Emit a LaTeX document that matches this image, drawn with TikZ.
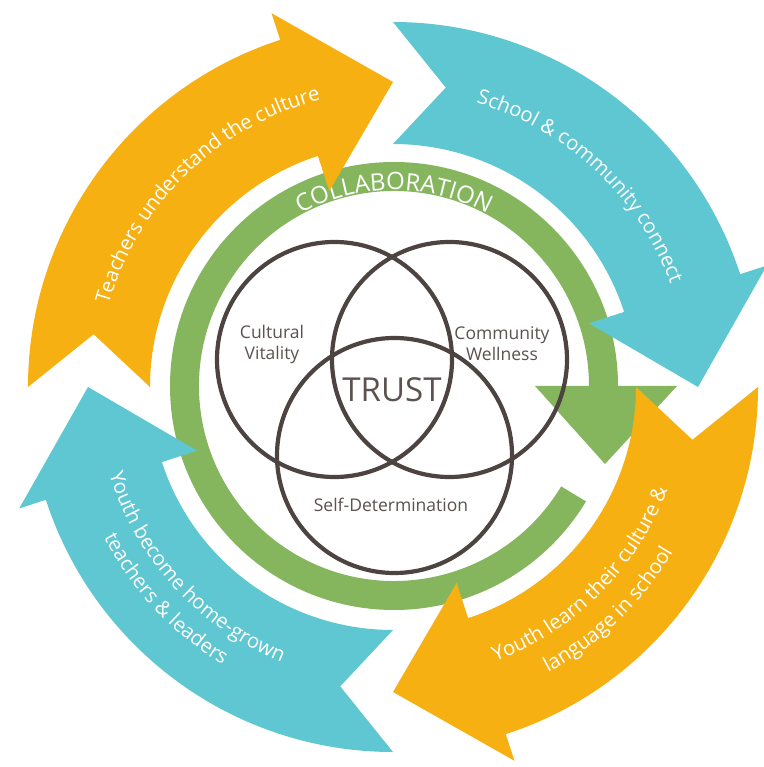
\documentclass[tikz,border=0pt]{standalone}
\usepackage{fontspec}
\setmainfont{Open Sans}
\usetikzlibrary{decorations.text}
\definecolor{arrorange}{RGB}{247,176,17}
\definecolor{arrcyan}{RGB}{94,199,210}
\definecolor{ringgreen}{RGB}{133,182,94}
\definecolor{venn}{RGB}{77,68,66}
\definecolor{lbl}{RGB}{92,82,80}
\newcommand\arrowfont{\fontsize{20.3pt}{24pt}\selectfont}
\newcommand\collabfont{\fontsize{24pt}{28pt}\selectfont}
% #1 tail angle, #2 colour
\newcommand\bigarrow[2]{%
  \fill[#2] (#1:365pt) -- ({#1-10}:304pt) -- (#1:243pt)
    arc[start angle=#1, end angle={#1-72}, radius=243pt]
    -- ({#1-72}:206pt) -- ({#1-90}:305pt) -- ({#1-72}:393pt) -- ({#1-72}:365pt)
    arc[start angle={#1-72}, end angle=#1, radius=365pt] -- cycle;}
\tikzset{
  venncirc/.style={circle, draw=venn, line width=4.2pt, minimum size=235pt, inner sep=0pt},
  vennlbl/.style={text=lbl, font=\fontsize{17.5pt}{21pt}\selectfont, align=center, inner sep=0pt},
  outtext/.style={decorate, decoration={text along path, text align=center, text color=white, text={|\arrowfont|#1}}},
}
\begin{document}
\begin{tikzpicture}[x=1pt,y=1pt]
\useasboundingbox (-393,-380) rectangle (370,387);
\fill[white] (-393,-380) rectangle (370,387);
% green collaboration ring
\begin{scope}[shift={(1,1)}]
\fill[ringgreen] (-31:195pt) arc[start angle=-31, end angle=-360, radius=195pt]
  -- (141,0) -- (211,-78) -- (283,0) -- (224,0)
  arc[start angle=-360, end angle=-31, radius=224pt] -- cycle;
\path[decorate, decoration={text along path, text align=center, text color=white,
  text={|\collabfont|COLLABORATION}}]
  (150:196pt) arc[start angle=150, end angle=30, radius=196pt];
\end{scope}
% four cycle arrows
\bigarrow{180}{arrorange}
\bigarrow{90}{arrcyan}
\bigarrow{0}{arrorange}
\bigarrow{270}{arrcyan}
% arrow texts
\path[outtext={Teachers understand the culture}] (180:296pt) arc[start angle=180, end angle=88, radius=296pt];
\path[outtext={School {\&} community connect}] (93:296pt) arc[start angle=93, end angle=1, radius=296pt];
\path[outtext={Youth learn their culture {\&}}] (-95:293pt) arc[start angle=-95, end angle=5, radius=293pt];
\path[outtext={language in school}] (-96:325pt) arc[start angle=-96, end angle=4, radius=325pt];
\path[outtext={Youth become home-grown}] (172.5:297pt) arc[start angle=172.5, end angle=272.5, radius=297pt];
\path[outtext={teachers {\&} leaders}] (173:326pt) arc[start angle=173, end angle=273, radius=326pt];
% Venn diagram
\node[venncirc] (cv) at (-58.5,27.5) {};
\node[venncirc] (cw) at (56.5,27.5) {};
\node[venncirc] (sd) at (1.5,-68.5) {};
\node[vennlbl] (cvl) at (-121,43) {Cultural\\Vitality};
\node[vennlbl] (cwl) at (109,43) {Community\\Wellness};
\node[vennlbl] (sdl) at (-2,-118) {Self-Determination};
\node[text=lbl, font=\fontsize{33pt}{38pt}\selectfont, inner sep=0pt] (trust) at (-1,-3) {TRUST};
\end{tikzpicture}
\end{document}
